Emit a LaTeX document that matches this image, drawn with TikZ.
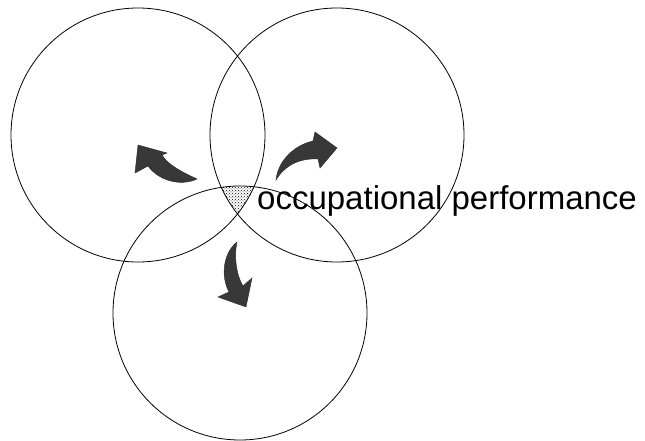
\documentclass[tikz,border=0pt]{standalone}
\usepackage{fontspec}
\setmainfont{Liberation Sans}
\usetikzlibrary{patterns}

\begin{document}
\begin{tikzpicture}[x=1pt, y=-1pt,
      ring/.style={circle, draw, line width=0.8pt, minimum size=254pt, inner sep=0pt},
      bigarrow/.style={fill=black!78, draw=black!85, line width=0.4pt},
      label/.style={inner sep=0pt, anchor=base west, font=\fontsize{33}{36}\selectfont}
    ]
    \useasboundingbox (0,0) rectangle (645,441);

    % Circles
    \node[ring] (person) at (138,135) {};
    \node[ring] (environ) at (337,135) {};
    \node[ring] (occup) at (240,313) {};

    % Common area
    \begin{scope}
      \clip (person.center) circle (127pt);
      \clip (environ.center) circle (127pt);
      \fill[pattern=crosshatch dots] (occup.center) circle (127pt);
    \end{scope}

    % Arrows
    \fill[bigarrow] (197,179) .. controls (182,172) and (168,165) .. (162,155)
      -- (167,153) -- (138,145) -- (135,173) -- (148,166)
      .. controls (158,180) and (180,187) .. (197,179) -- cycle;
    \fill[bigarrow] (276,180) .. controls (278,160) and (295,145) .. (313,141)
      -- (315,132) -- (337,148) -- (320,168) -- (318,159)
      .. controls (300,158) and (285,165) .. (276,180) -- cycle;
    \fill[bigarrow] (237,242) .. controls (224,252) and (220,275) .. (229,292)
      -- (218,297) -- (246,307) -- (252,278) -- (243,286)
      .. controls (236,275) and (234,255) .. (237,242) -- cycle;

    % Label
    \node[label] (perf) at (257,209) {occupational performance};
  \end{tikzpicture}
\end{document}
